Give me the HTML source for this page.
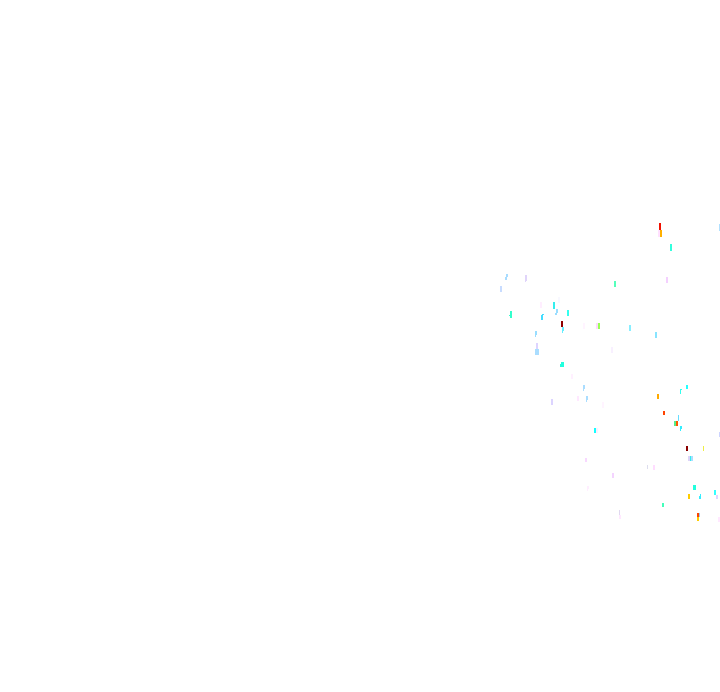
<!DOCTYPE html>
<html><head><meta charset="utf-8"><title>Diagram</title>
<style>html,body{margin:0;padding:0;background:#fff}svg{display:block}</style></head>
<body>
<svg xmlns="http://www.w3.org/2000/svg" width="720" height="692" viewBox="0 0 720 692" shape-rendering="crispEdges">
<rect width="720" height="692" fill="#fff"/>
<g>
<rect x="506" y="274" width="2" height="3" fill="#a8dcff"/>
<rect x="505" y="277" width="2" height="3" fill="#a8dcff"/>
<rect x="525" y="275" width="2" height="6" fill="#e0d4fa"/>
<rect x="525" y="281" width="1" height="1" fill="#e0d4fa"/>
<rect x="500" y="286" width="2" height="6" fill="#c8dcff"/>
<rect x="540" y="302" width="2" height="6" fill="#ffeeff"/>
<rect x="558" y="297" width="2" height="6" fill="#f8f8ff"/>
<rect x="553" y="302" width="2" height="7" fill="#33eeee"/>
<rect x="556" y="309" width="2" height="4" fill="#99ddff"/>
<rect x="555" y="313" width="2" height="2" fill="#99ddff"/>
<rect x="567" y="310" width="2" height="6" fill="#33ffee"/>
<rect x="510" y="311" width="2" height="7" fill="#33ffcc"/>
<rect x="509" y="315" width="1" height="1" fill="#33ffcc"/>
<rect x="542" y="314" width="2" height="1" fill="#44ddff"/>
<rect x="541" y="315" width="2" height="5" fill="#44ddff"/>
<rect x="659" y="223" width="2" height="7" fill="#f01000"/>
<rect x="660" y="230" width="2" height="7" fill="#ffb000"/>
<rect x="658" y="230" width="2" height="7" fill="#ffe0ff"/>
<rect x="719" y="224" width="1" height="7" fill="#b0e0ff"/>
<rect x="670" y="244" width="2" height="7" fill="#33ffdd"/>
<rect x="666" y="277" width="2" height="6" fill="#f4d0ff"/>
<rect x="614" y="281" width="2" height="6" fill="#55ffbb"/>
<rect x="561" y="321" width="2" height="6" fill="#900000"/>
<rect x="562" y="327" width="2" height="4" fill="#66eeff"/>
<rect x="562" y="331" width="1" height="2" fill="#66eeff"/>
<rect x="535" y="331" width="2" height="4" fill="#99ddff"/>
<rect x="535" y="335" width="1" height="2" fill="#99ddff"/>
<rect x="536" y="343" width="2" height="6" fill="#ddd4ff"/>
<rect x="535" y="349" width="4" height="6" fill="#aaddff"/>
<rect x="561" y="362" width="3" height="5" fill="#22ffdd"/>
<rect x="560" y="364" width="1" height="3" fill="#22ffdd"/>
<rect x="571" y="374" width="2" height="5" fill="#fff0ff"/>
<rect x="611" y="347" width="2" height="6" fill="#f8f0ff"/>
<rect x="583" y="385" width="2" height="4" fill="#aaddff"/>
<rect x="583" y="389" width="1" height="2" fill="#aaddff"/>
<rect x="577" y="396" width="2" height="5" fill="#ffe8ff"/>
<rect x="586" y="396" width="2" height="4" fill="#aaddff"/>
<rect x="586" y="400" width="1" height="2" fill="#aaddff"/>
<rect x="551" y="399" width="2" height="6" fill="#dcd4ff"/>
<rect x="602" y="402" width="2" height="6" fill="#fff4ff"/>
<rect x="583" y="323" width="2" height="6" fill="#fff4ff"/>
<rect x="596" y="323" width="2" height="6" fill="#ffd8ff"/>
<rect x="598" y="323" width="2" height="6" fill="#99ff55"/>
<rect x="629" y="325" width="2" height="6" fill="#88eeff"/>
<rect x="655" y="332" width="2" height="6" fill="#88e4ff"/>
<rect x="686" y="385" width="2" height="4" fill="#22ffff"/>
<rect x="680" y="389" width="2" height="1" fill="#33ffee"/>
<rect x="680" y="390" width="1" height="4" fill="#33ffee"/>
<rect x="657" y="394" width="2" height="5" fill="#ffaa00"/>
<rect x="663" y="411" width="2" height="4" fill="#ff4400"/>
<rect x="594" y="428" width="2" height="5" fill="#11ffff"/>
<rect x="596" y="428" width="2" height="5" fill="#ffeeff"/>
<rect x="585" y="458" width="2" height="4" fill="#f8d8ff"/>
<rect x="612" y="473" width="2" height="5" fill="#f4d4ff"/>
<rect x="587" y="486" width="2" height="3" fill="#ffeeff"/>
<rect x="587" y="489" width="1" height="2" fill="#ffeeff"/>
<rect x="619" y="510" width="1" height="5" fill="#e0d8f0"/>
<rect x="619" y="515" width="2" height="4" fill="#ffe8ff"/>
<rect x="678" y="415" width="1" height="6" fill="#66ddff"/>
<rect x="674" y="421" width="2" height="5" fill="#55ee88"/>
<rect x="676" y="421" width="2" height="5" fill="#ff5500"/>
<rect x="680" y="426" width="2" height="3" fill="#33eeff"/>
<rect x="680" y="429" width="1" height="2" fill="#33eeff"/>
<rect x="719" y="432" width="1" height="5" fill="#ccd4ff"/>
<rect x="686" y="446" width="2" height="5" fill="#8a0000"/>
<rect x="703" y="446" width="1" height="5" fill="#eeee44"/>
<rect x="688" y="456" width="2" height="5" fill="#dcd4f8"/>
<rect x="690" y="456" width="1" height="5" fill="#33eeee"/>
<rect x="691" y="456" width="2" height="5" fill="#aaddff"/>
<rect x="647" y="465" width="1" height="4" fill="#ddddee"/>
<rect x="653" y="465" width="2" height="5" fill="#ffddff"/>
<rect x="693" y="485" width="3" height="5" fill="#22ffdd"/>
<rect x="688" y="494" width="2" height="5" fill="#ffcc00"/>
<rect x="714" y="490" width="2" height="5" fill="#33ffff"/>
<rect x="716" y="495" width="2" height="4" fill="#ddd4ff"/>
<rect x="699" y="496" width="2" height="3" fill="#33eeff"/>
<rect x="700" y="494" width="1" height="2" fill="#33eeff"/>
<rect x="662" y="503" width="2" height="4" fill="#44ffbb"/>
<rect x="697" y="513" width="2" height="4" fill="#ff4400"/>
<rect x="699" y="513" width="1" height="4" fill="#99ccee"/>
<rect x="697" y="517" width="2" height="4" fill="#ffcc00"/>
<rect x="718" y="517" width="2" height="5" fill="#ffe8ff"/>
</g>
</svg>
</body></html>
